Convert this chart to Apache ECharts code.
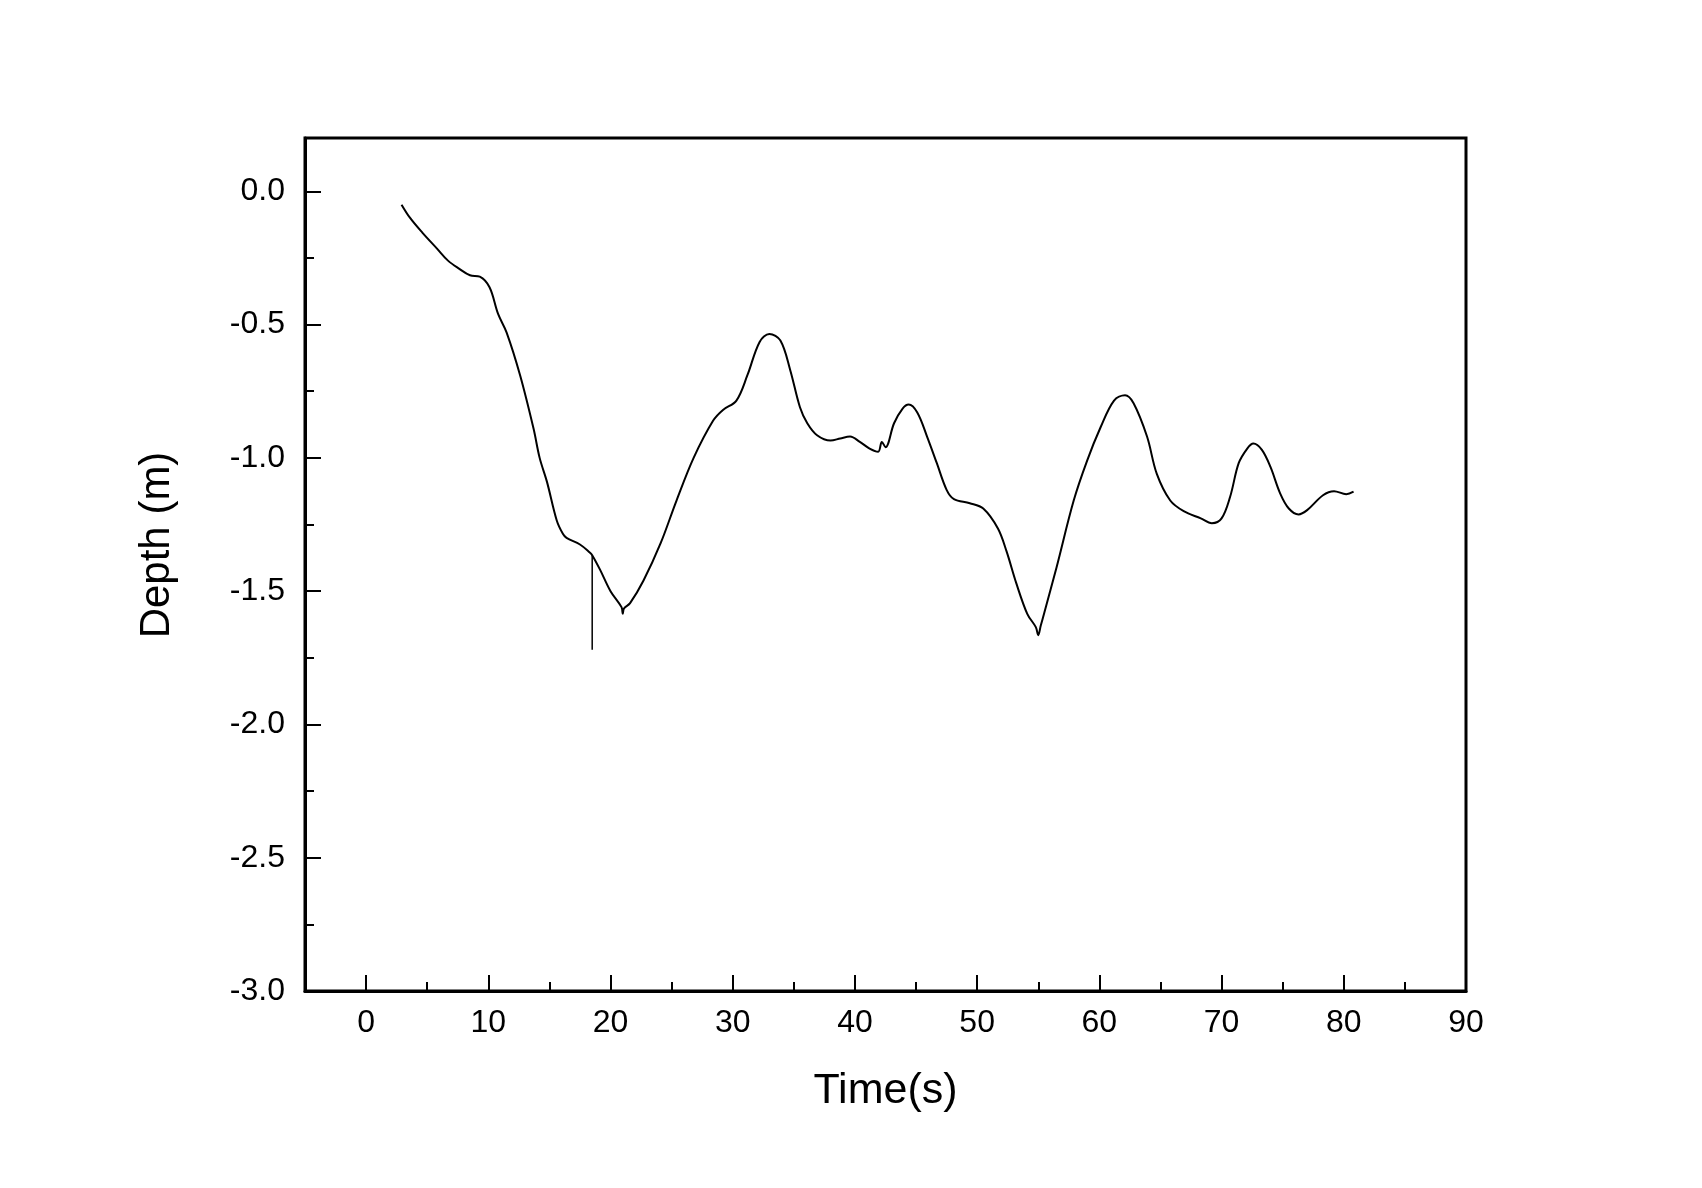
<!DOCTYPE html>
<html>
<head>
<meta charset="utf-8">
<script src="https://cdn.jsdelivr.net/npm/echarts@6/dist/echarts.min.js"></script>
<style>
html,body{margin:0;padding:0;background:#fff;}
#chart{width:1702px;height:1188px;}
</style>
</head>
<body>
<div id="chart"></div>
<script>
// Time (s)
const times = [2.9, 3.6, 4.6, 5.8, 6.7, 7.6, 8.5, 9.3, 10.1, 10.8, 11.5, 12.6, 13.7, 14.2, 14.8, 15.6, 16.1, 16.4, 17.5, 18.3, 18.5, 19.15, 20.0, 20.9, 21.0, 21.1, 21.6, 22.7, 24.1, 25.4, 26.8, 28.4, 29.2, 30.3, 31.2, 32.2, 33.0, 33.9, 34.7, 35.5, 36.1, 36.9, 38.0, 38.8, 39.6, 40.4, 41.2, 41.9, 42.2, 42.5, 43.2, 43.9, 44.4, 45.1, 45.9, 46.7, 47.5, 48.1, 49.4, 50.5, 51.7, 52.4, 53.2, 54.1, 54.8, 55.0, 55.2, 55.5, 56.5, 57.9, 59.0, 60.1, 61.2, 62.1, 62.8, 63.9, 64.7, 65.8, 66.9, 68.3, 69.2, 70.0, 70.7, 71.4, 72.1, 72.6, 73.3, 74.0, 74.8, 75.5, 76.3, 77.0, 78.3, 79.2, 80.2, 80.8];
// Depth (m)
const depths = [-0.05, -0.10, -0.155, -0.215, -0.26, -0.29, -0.315, -0.32, -0.36, -0.46, -0.53, -0.69, -0.89, -1.00, -1.09, -1.235, -1.285, -1.30, -1.325, -1.355, -1.365, -1.42, -1.50, -1.56, -1.585, -1.565, -1.545, -1.46, -1.32, -1.16, -1.00, -0.86, -0.82, -0.785, -0.69, -0.565, -0.535, -0.56, -0.67, -0.81, -0.87, -0.915, -0.935, -0.927, -0.92, -0.94, -0.965, -0.977, -0.94, -0.96, -0.87, -0.815, -0.80, -0.83, -0.92, -1.02, -1.12, -1.155, -1.17, -1.19, -1.265, -1.35, -1.47, -1.585, -1.635, -1.665, -1.63, -1.58, -1.41, -1.16, -1.01, -0.885, -0.785, -0.765, -0.795, -0.92, -1.06, -1.16, -1.20, -1.227, -1.245, -1.227, -1.146, -1.02, -0.965, -0.946, -0.97, -1.034, -1.134, -1.19, -1.212, -1.196, -1.14, -1.125, -1.136, -1.127];
// Vertical glitch near t = 18.5 s
const spikeTimes = [18.5, 18.5];
const spikeDepths = [-1.365, -1.72];

const xTickLabels = [0, 10, 20, 30, 40, 50, 60, 70, 80, 90];
const xMinorTicks = [5, 15, 25, 35, 45, 55, 65, 75, 85];
const yTickLabels = [-3.0, -2.5, -2.0, -1.5, -1.0, -0.5, 0.0];
const yMinorTicks = [-2.75, -2.25, -1.75, -1.25, -0.75, -0.25];

const seriesData = times.map((t, i) => [t, depths[i]]);
const spikeData = spikeTimes.map((t, i) => [t, spikeDepths[i]]);

const FONT = '"Liberation Sans", Arial, sans-serif';
const chart = echarts.init(document.getElementById('chart'), null, {renderer: 'canvas'});
chart.setOption({
  animation: false,
  backgroundColor: '#fff',
  grid: {left: 305, right: 236, top: 138, bottom: 197, show: true, borderColor: '#000', borderWidth: 3, backgroundColor: 'transparent', containLabel: false},
  xAxis: [
    {
      type: 'value', position: 'bottom', min: -5, max: 90, interval: 5,
      name: 'Time(s)', nameLocation: 'middle', nameGap: 79,
      nameTextStyle: {fontFamily: FONT, fontSize: 43, color: '#000'},
      axisLine: {show: true, onZero: false, lineStyle: {color: '#000', width: 3}},
      axisTick: {show: true, inside: true, length: 16, lineStyle: {color: '#000', width: 2}, customValues: xTickLabels},
      axisLabel: {show: true, customValues: xTickLabels, margin: 16, fontFamily: FONT, fontSize: 32, color: '#000', formatter: v => String(v)},
      splitLine: {show: false}
    },
    {
      type: 'value', position: 'bottom', min: -5, max: 90, interval: 5,
      axisLine: {show: false, onZero: false},
      axisTick: {show: true, inside: true, length: 9, lineStyle: {color: '#000', width: 2}, customValues: xMinorTicks},
      axisLabel: {show: false},
      splitLine: {show: false}
    }
  ],
  yAxis: [
    {
      type: 'value', position: 'left', min: -3, max: 0.2, interval: 0.5,
      name: 'Depth (m)', nameLocation: 'middle', nameGap: 127, nameRotate: 90,
      nameTextStyle: {fontFamily: FONT, fontSize: 42, color: '#000', padding: [0, 0, 0, 39]},
      axisLine: {show: true, onZero: false, lineStyle: {color: '#000', width: 3}},
      axisTick: {show: true, inside: true, length: 16, lineStyle: {color: '#000', width: 2}, customValues: yTickLabels},
      axisLabel: {show: true, customValues: yTickLabels, margin: 20, fontFamily: FONT, fontSize: 32, color: '#000', formatter: v => v.toFixed(1)},
      splitLine: {show: false}
    },
    {
      type: 'value', position: 'left', min: -3, max: 0.2, interval: 0.5,
      axisLine: {show: false, onZero: false},
      axisTick: {show: true, inside: true, length: 9, lineStyle: {color: '#000', width: 2}, customValues: yMinorTicks},
      axisLabel: {show: false},
      splitLine: {show: false}
    }
  ],
  series: [{
    type: 'line', xAxisIndex: 0, yAxisIndex: 0,
    data: seriesData, showSymbol: false, smooth: 0.35,
    lineStyle: {color: '#000', width: 2}
  }, {
    type: 'line', xAxisIndex: 0, yAxisIndex: 0,
    data: spikeData, showSymbol: false, smooth: false,
    lineStyle: {color: '#000', width: 1.5}
  }]
});
</script>
</body>
</html>
